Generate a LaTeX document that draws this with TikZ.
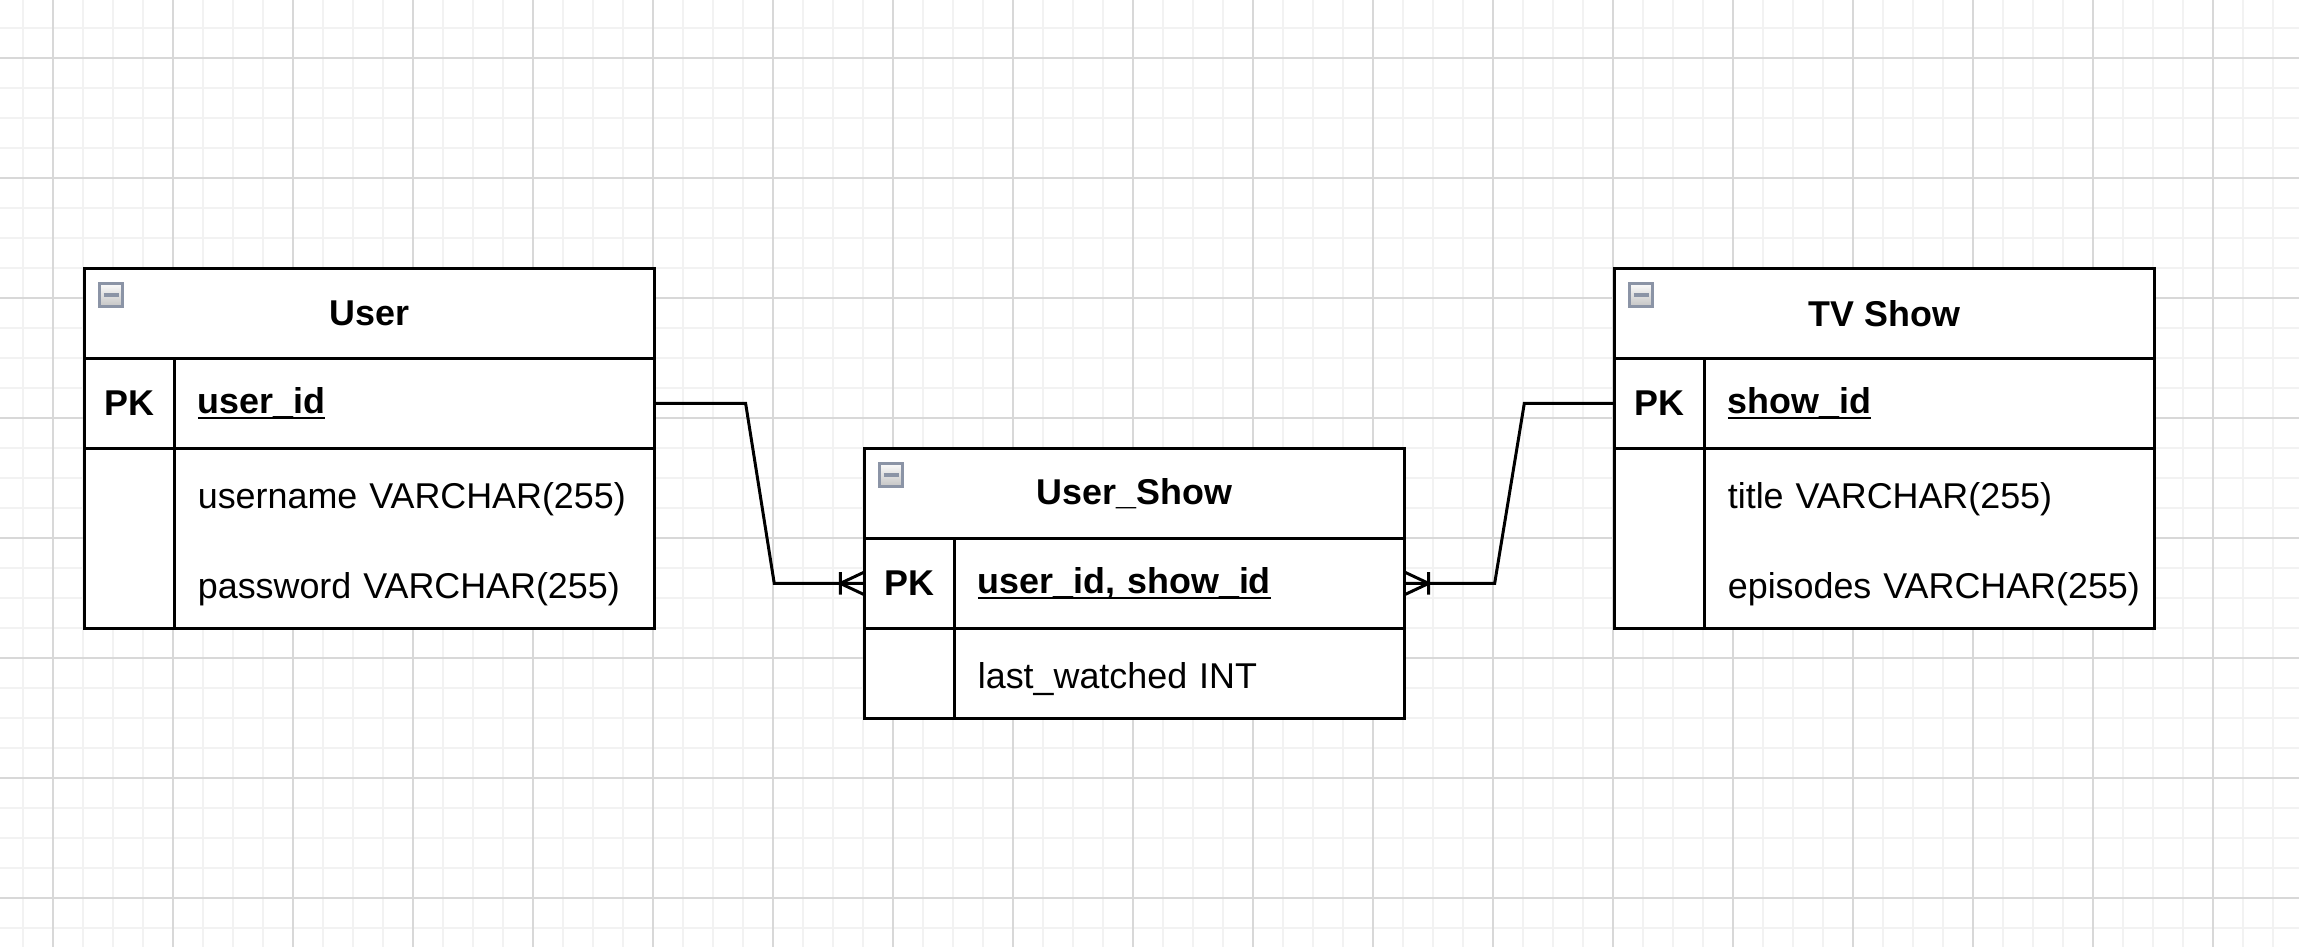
\documentclass[tikz,border=0pt]{standalone}
\usepackage{fontspec}
\setmainfont[Scale=1.02]{Liberation Sans}

\newsavebox{\keybox}
\newcommand{\keyul}[1]{\sbox{\keybox}{#1}\rlap{\rule[-1.7pt]{\wd\keybox}{0.6pt}}\usebox{\keybox}}

\definecolor{gridmajor}{RGB}{216,216,216}
\definecolor{gridminor}{RGB}{242,242,242}
\definecolor{iconedge}{RGB}{139,148,166}
\definecolor{icontop}{RGB}{250,250,250}
\definecolor{iconbot}{RGB}{196,196,196}

\tikzset{
  cell/.style={draw, line width=0.85pt, fill=white, inner sep=0pt, outer sep=0pt, minimum height=0.9cm},
  head/.style={cell, font=\bfseries},
  keycol/.style={cell, minimum width=0.9cm, font=\bfseries},
  txtcell/.style={cell, text width=#1, align=left},
  attr/.style={txtcell=#1, execute at begin node={\leftskip=0.235cm\rule{0pt}{10.5pt}}},
  pkey/.style={txtcell=#1, font=\bfseries, execute at begin node={\leftskip=0.235cm}},
  minbox/.style={draw=iconedge, line width=0.9pt, top color=icontop, bottom color=iconbot,
    minimum size=0.23cm, inner sep=0pt,
    path picture={\draw[line width=1.2pt] ([xshift=-0.075cm]path picture bounding box.center)
      -- ([xshift=0.075cm]path picture bounding box.center);}},
  rel/.style={line width=0.85pt},
  gridline/.style={line width=0.6pt}
}

\begin{document}
\begin{tikzpicture}[x=0.01cm, y=-0.01cm]
  % canvas and grid
  \fill[white] (0,0) rectangle (2299,947);
  \useasboundingbox (0,0) rectangle (2299,947);
  \foreach \gx in {23.3,53.3,...,2299} \draw[gridline, gridminor] (\gx,0) -- (\gx,947);
  \foreach \gy in {27.7,57.7,...,947} \draw[gridline, gridminor] (0,\gy) -- (2299,\gy);
  \foreach \gx in {53.3,173.3,...,2299} \draw[gridline, gridmajor] (\gx,0) -- (\gx,947);
  \foreach \gy in {57.7,177.7,...,947} \draw[gridline, gridmajor] (0,\gy) -- (2299,\gy);

  % User
  \node[head, minimum width=5.7cm, anchor=north west] (user) at (84.3,268.3) {User};
  \node[keycol, anchor=north west] (userpk) at (user.south west) {PK};
  \node[pkey=4.8cm, anchor=north west] (userid) at (userpk.north east) {\keyul{user\_id}};
  \node[keycol, minimum height=1.8cm, anchor=north west] (userfk) at (userpk.south west) {};
  \node[attr=4.8cm, minimum height=1.8cm, anchor=north west, font=\fontsize{10pt}{25.6pt}\selectfont]
    (userattr) at (userfk.north east) {username VARCHAR(255)\\password VARCHAR(255)};
  \node[minbox] (usermin) at ([xshift=0.27cm, yshift=-0.27cm]user.north west) {};

  % User_Show
  \node[head, minimum width=5.4cm, anchor=north west] (link) at (864.3,448.3) {User\_Show};
  \node[keycol, anchor=north west] (linkpk) at (link.south west) {PK};
  \node[pkey=4.5cm, anchor=north west] (linkid) at (linkpk.north east) {\keyul{user\_id, show\_id}};
  \node[keycol, anchor=north west] (linkfk) at (linkpk.south west) {};
  \node[attr=4.5cm, anchor=north west] (linkattr) at (linkfk.north east) {last\_watched INT};
  \node[minbox] (linkmin) at ([xshift=0.27cm, yshift=-0.27cm]link.north west) {};

  % TV Show
  \node[head, minimum width=5.4cm, anchor=north west] (show) at (1614.3,268.3) {TV Show};
  \node[keycol, anchor=north west] (showpk) at (show.south west) {PK};
  \node[pkey=4.5cm, anchor=north west] (showid) at (showpk.north east) {\keyul{show\_id}};
  \node[keycol, minimum height=1.8cm, anchor=north west] (showfk) at (showpk.south west) {};
  \node[attr=4.5cm, minimum height=1.8cm, anchor=north west, font=\fontsize{10pt}{25.6pt}\selectfont]
    (showattr) at (showfk.north east) {title VARCHAR(255)\\episodes VARCHAR(255)};
  \node[minbox] (showmin) at ([xshift=0.27cm, yshift=-0.27cm]show.north west) {};

  % relations
  \draw[rel] (userid.east) -- ++(91,0) -- ([xshift=-0.9cm]linkpk.west) -- (linkpk.west);
  \draw[rel] (showpk.west) -- ++(-90,0) -- ([xshift=0.9cm]linkid.east) -- (linkid.east);

  % crow's feet (many)
  \draw[rel] ([xshift=-0.24cm]linkpk.west) -- ([yshift=0.113cm]linkpk.west)
             ([xshift=-0.24cm]linkpk.west) -- ([yshift=-0.113cm]linkpk.west)
             ([xshift=-0.24cm, yshift=0.113cm]linkpk.west) -- ([xshift=-0.24cm, yshift=-0.113cm]linkpk.west);
  \draw[rel] ([xshift=0.24cm]linkid.east) -- ([yshift=0.113cm]linkid.east)
             ([xshift=0.24cm]linkid.east) -- ([yshift=-0.113cm]linkid.east)
             ([xshift=0.24cm, yshift=0.113cm]linkid.east) -- ([xshift=0.24cm, yshift=-0.113cm]linkid.east);
\end{tikzpicture}
\end{document}
